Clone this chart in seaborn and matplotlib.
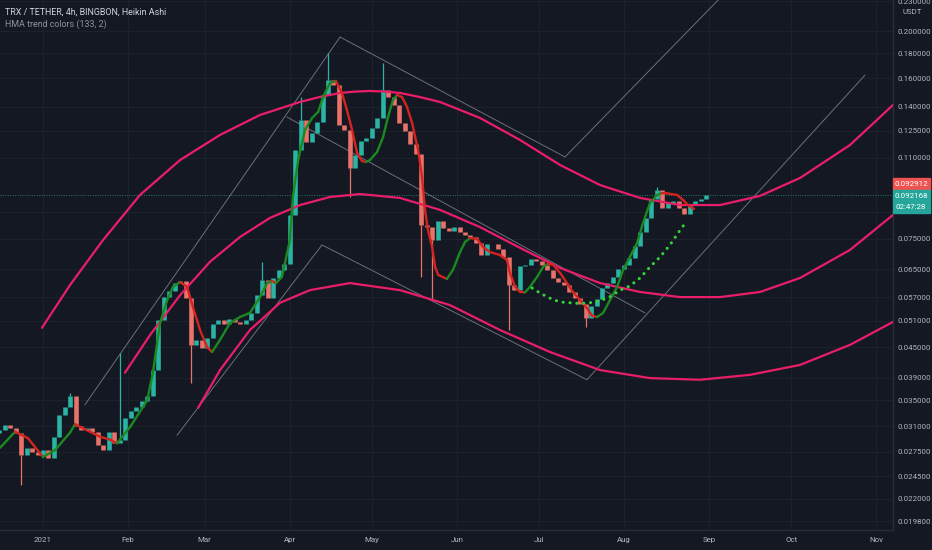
import pandas as pd
import matplotlib
matplotlib.use("Agg")
import matplotlib.pyplot as plt
from matplotlib.patches import Rectangle
from matplotlib.ticker import FixedLocator, NullLocator, FixedFormatter
import seaborn as sns

START = pd.Timestamp("2021-01-01")

# heikin ashi closes, one every 2 days from 2020-12-16
candle_start = "2020-12-16"
first_open = 0.0300
close = [0.0305, 0.0312, 0.0307, 0.0300, 0.0271, 0.0280, 0.0274, 0.0271, 0.0277, 0.0267,
         0.0295, 0.0327, 0.0339, 0.0358, 0.0310, 0.0305, 0.0307, 0.0301, 0.0284, 0.0277,
         0.0301, 0.0287, 0.0291, 0.0322, 0.0333, 0.0339, 0.0349, 0.0357, 0.0404, 0.0512,
         0.0570, 0.0586, 0.0609, 0.0615, 0.0567, 0.0455, 0.0466, 0.0449, 0.0469, 0.0501,
         0.0512, 0.0502, 0.0514, 0.0507, 0.0501, 0.0512, 0.0529, 0.0575, 0.0618, 0.0567,
         0.0624, 0.0648, 0.0667, 0.0840, 0.1141, 0.1314, 0.1185, 0.1236, 0.1302, 0.1479,
         0.1587, 0.1550, 0.1284, 0.1254, 0.1048, 0.1114, 0.1191, 0.1207, 0.1266, 0.1327,
         0.1515, 0.1465, 0.1411, 0.1296, 0.1248, 0.1174, 0.1120, 0.0801, 0.0795, 0.0746,
         0.0816, 0.0789, 0.0778, 0.0793, 0.0775, 0.0764, 0.0757, 0.0736, 0.0696, 0.0733,
         0.0731, 0.0716, 0.0689, 0.0604, 0.0589, 0.0660, 0.0664, 0.0682, 0.0677, 0.0664,
         0.0648, 0.0624, 0.0612, 0.0604, 0.0584, 0.0567, 0.0553, 0.0517, 0.0547, 0.0564,
         0.0595, 0.0609, 0.0627, 0.0651, 0.0664, 0.0685, 0.0725, 0.0775, 0.0828, 0.0905,
         0.0944, 0.0868, 0.0888, 0.0897, 0.0868, 0.0844, 0.0880, 0.0897, 0.0905, 0.0922]
# long wicks
spike_idx = [4, 13, 22, 35, 48, 55, 60, 64, 70, 77, 79, 93, 107, 120]
spike_px = [0.0235, 0.0363, 0.0438, 0.0380, 0.0673, 0.1465, 0.1800, 0.0914, 0.1720,
            0.0627, 0.0562, 0.0488, 0.0495, 0.0960]

# HMA (133, 2), days since 2021-01-01
hma_day = [-15.7, -10.2, -5.5, 0.0, 4.4, 9.9, 11.7, 14.6, 20.8, 24.5, 27.0, 31.8, 38.0,
           40.1, 42.7, 45.3, 47.4, 50.0, 52.6, 54.7, 57.3, 59.9, 61.7, 64.6, 68.2, 71.9,
           75.5, 79.2, 81.8, 83.6, 85.0, 87.2, 90.1, 91.2, 93.1, 95.6, 98.2, 100.4, 102.2,
           104.7, 106.9, 109.1, 110.9, 112.8, 114.6, 116.4, 117.9, 119.3, 121.9, 124.1,
           125.9, 127.7, 129.2, 131.0, 132.8, 134.7, 135.8, 136.9, 138.3, 139.4, 140.5,
           142.0, 143.1, 144.2, 147.4, 149.6, 152.2, 154.0, 155.8, 158.4, 160.6, 163.1,
           166.8, 169.3, 170.4, 172.3, 174.1, 175.9, 177.7, 180.3, 182.5, 184.3, 186.1,
           188.7, 191.2, 193.4, 196.0, 198.5, 200.4, 202.2, 204.4, 206.9, 209.5, 211.7,
           214.2, 216.8, 219.0, 221.5, 224.1, 225.9, 227.7, 231.4, 233.6, 235.4, 237.6]
hma_px = [0.0280, 0.0302, 0.0293, 0.0268, 0.0277, 0.0301, 0.0313, 0.0307, 0.0295, 0.0291,
          0.0286, 0.0309, 0.0350, 0.0399, 0.0504, 0.0562, 0.0598, 0.0612, 0.0598, 0.0544,
          0.0488, 0.0450, 0.0440, 0.0466, 0.0504, 0.0519, 0.0529, 0.0570, 0.0609, 0.0615,
          0.0609, 0.0627, 0.0746, 0.0914, 0.1088, 0.1254, 0.1327, 0.1365, 0.1465, 0.1565,
          0.1580, 0.1493, 0.1378, 0.1254, 0.1125, 0.1083, 0.1078, 0.1088, 0.1130, 0.1213,
          0.1333, 0.1444, 0.1479, 0.1465, 0.1400, 0.1296, 0.1213, 0.1141, 0.1004, 0.0860,
          0.0782, 0.0722, 0.0657, 0.0633, 0.0621, 0.0648, 0.0705, 0.0739, 0.0753, 0.0750,
          0.0722, 0.0705, 0.0695, 0.0679, 0.0639, 0.0598, 0.0584, 0.0583, 0.0598, 0.0627,
          0.0657, 0.0667, 0.0664, 0.0639, 0.0609, 0.0584, 0.0562, 0.0541, 0.0522, 0.0519,
          0.0529, 0.0562, 0.0598, 0.0648, 0.0689, 0.0736, 0.0809, 0.0888, 0.0923, 0.0931,
          0.0930, 0.0923, 0.0901, 0.0880, 0.0864]

# green dotted curve
dots_day = [178.5, 181.4, 185.0, 188.7, 192.3, 196.0, 199.6, 203.3, 206.9, 210.6, 214.2,
            217.9, 221.5, 225.2, 228.8, 232.5, 234.7]
dots_px = [0.0595, 0.0581, 0.0567, 0.0557, 0.0555, 0.0553, 0.0555, 0.0560, 0.0571, 0.0589,
           0.0601, 0.0624, 0.0657, 0.0689, 0.0729, 0.0782, 0.0812]

# curved bands
upper_day = [-0.4, 9.9, 21.9, 35.4, 50.0, 64.6, 79.2, 93.8, 101.0, 108.4, 114.0, 119.3,
             125.0, 130.3, 137.0, 144.9, 159.5, 174.1, 188.7, 203.3, 217.9, 232.5, 247.1,
             261.7, 276.3, 294.5, 310.2]
upper_px = [0.0493, 0.0604, 0.0746, 0.0923, 0.1088, 0.1225, 0.1346, 0.1431, 0.1465, 0.1493,
            0.1503, 0.1507, 0.1503, 0.1493, 0.1467, 0.1431, 0.1327, 0.1196, 0.1063, 0.0967,
            0.0910, 0.0880, 0.0880, 0.0919, 0.1000, 0.1168, 0.1411]
mid_day = [29.9, 39.1, 50.0, 60.9, 71.9, 82.8, 93.8, 104.7, 115.7, 130.3, 144.9, 159.5,
           174.1, 188.7, 203.3, 217.9, 232.5, 247.1, 261.7, 276.3, 294.5, 310.2]
mid_px = [0.0399, 0.0477, 0.0575, 0.0673, 0.0757, 0.0828, 0.0880, 0.0914, 0.0927, 0.0910,
          0.0860, 0.0793, 0.0719, 0.0654, 0.0609, 0.0584, 0.0570, 0.0570, 0.0584, 0.0624,
          0.0712, 0.0840]
low_day = [56.6, 64.6, 75.5, 86.5, 97.4, 112.0, 130.3, 148.5, 166.8, 185.0, 203.3, 221.5,
           239.8, 258.0, 276.3, 294.5, 310.2]
low_px = [0.0338, 0.0404, 0.0488, 0.0555, 0.0589, 0.0609, 0.0589, 0.0549, 0.0488, 0.0440,
          0.0404, 0.0389, 0.0386, 0.0395, 0.0414, 0.0455, 0.0507]

# drawn trend lines (start day, start price, end day, end price)
tl_d0 = [15.3, 108.4, 190.5, 48.9, 101.8, 198.5, 89.0]
tl_p0 = [0.0343, 0.1944, 0.1104, 0.0297, 0.0729, 0.0386, 0.1333]
tl_d1 = [108.4, 190.5, 246.4, 101.8, 198.5, 300.0, 219.7]
tl_p1 = [0.1944, 0.1104, 0.2315, 0.0729, 0.0386, 0.1625, 0.0529]

price_ticks = [0.23, 0.2, 0.18, 0.16, 0.14, 0.125, 0.11, 0.085, 0.075, 0.065, 0.057,
               0.051, 0.045, 0.039, 0.035, 0.031, 0.0275, 0.0245, 0.022, 0.0198]
hidden_ticks = [0.085]  # sits under the price labels
month_ticks = ["2021-01-01", "2021-02-01", "2021-03-01", "2021-04-01", "2021-05-01",
               "2021-06-01", "2021-07-01", "2021-08-01", "2021-09-01", "2021-10-01",
               "2021-11-01"]
month_labels = ["2021", "Feb", "Mar", "Apr", "May", "Jun", "Jul", "Aug", "Sep", "Oct", "Nov"]
last_price = 0.092168
red_label = "0.092912"
countdown = "02:47:28"

BG = "#141823"
GRID = "#1c212c"
TXT = "#b2b5be"

sns.set_theme(style="dark", rc={"axes.facecolor": BG, "figure.facecolor": BG})
plt.rcParams["font.family"] = ["Roboto", "DejaVu Sans"]


def days(d):
    return START + pd.to_timedelta(pd.Series(d, dtype=float), unit="D")


fig = plt.figure(figsize=(9.32, 5.5), dpi=100)
ax = fig.add_axes([0, 20 / 550, 893 / 932, 530 / 550])
ax.set_yscale("log")

# candles
dates = pd.date_range(candle_start, periods=len(close), freq="2D")
opens = [first_open] + close[:-1]
up_c, dn_c = "#2bb3a3", "#e8736a"
cols = [up_c if c >= o else dn_c for o, c in zip(opens, close)]
lo = [min(o, c) for o, c in zip(opens, close)]
hi = [max(o, c) for o, c in zip(opens, close)]
for i, p in zip(spike_idx, spike_px):
    base = hi[i] if p > hi[i] else lo[i]
    ax.vlines(dates[i], min(base, p), max(base, p), color=cols[i], lw=0.9, zorder=3)
ax.vlines(dates, lo, hi, colors=cols, lw=3.3, zorder=3)

# bands
for d, p in [(upper_day, upper_px), (mid_day, mid_px), (low_day, low_px)]:
    sns.lineplot(x=days(d), y=p, ax=ax, color="#ea1e68", lw=1.6, zorder=4)

# trend lines
for d0, p0, d1, p1 in zip(tl_d0, tl_p0, tl_d1, tl_p1):
    ax.plot(days([d0, d1]), [p0, p1], color="#6b6f7a", lw=0.7, zorder=2)

# HMA coloured by direction
hx = days(hma_day)
for i in range(1, len(hma_px)):
    c = "#1a8a1f" if hma_px[i] >= hma_px[i - 1] else "#d42420"
    ax.plot(hx.iloc[i - 1:i + 1], hma_px[i - 1:i + 1], color=c, lw=1.7,
            solid_capstyle="round", zorder=5)

# dotted projection
ax.plot(days(dots_day), dots_px, color="#33d43a", lw=2.2, linestyle=(0, (0.05, 2.2)),
        dash_capstyle="round", zorder=5)

ax.axhline(last_price, color="#26a69a", lw=0.7, ls=(0, (1, 1.5)), alpha=0.7, zorder=2)

ax.set_xlim(START + pd.Timedelta(days=-15.7), START + pd.Timedelta(days=310.2))
ax.set_ylim(0.0190, 0.2315)

ax.yaxis.tick_right()
ax.yaxis.set_major_locator(FixedLocator(price_ticks))
ax.yaxis.set_major_formatter(FixedFormatter(
    ["" if v in hidden_ticks else "%.6f" % v for v in price_ticks]))
ax.yaxis.set_minor_locator(NullLocator())
ax.set_xticks(pd.to_datetime(month_ticks))
ax.set_xticklabels(month_labels)
ax.tick_params(axis="both", length=0, colors=TXT, labelsize=5.7)
ax.tick_params(axis="y", pad=3)
ax.tick_params(axis="x", pad=5)
ax.grid(True, color=GRID, lw=0.8)
ax.set_xlabel("")
ax.set_ylabel("")
for s in ["top", "left"]:
    ax.spines[s].set_visible(False)
for s in ["right", "bottom"]:
    ax.spines[s].set_color("#2a2e39")
    ax.spines[s].set_linewidth(1)

fig.text(5 / 932, 1 - 12 / 550, "TRX / TETHER, 4h, BINGBON, Heikin Ashi", color="#d1d4dc",
         fontsize=6.4, va="center", ha="left")
fig.text(5 / 932, 1 - 24 / 550, "HMA trend colors (133, 2)", color="#8f929b",
         fontsize=6.4, va="center", ha="left")
fig.text(912 / 932, 1 - 12 / 550, "USDT", color=TXT, fontsize=5.6, va="center", ha="center")

# price labels on the scale
fig.patches.append(Rectangle((893 / 932, 1 - 190 / 550), 37 / 932, 12 / 550,
                             transform=fig.transFigure, color="#ef5350", zorder=5))
fig.patches.append(Rectangle((893 / 932, 1 - 213 / 550), 37 / 932, 23 / 550,
                             transform=fig.transFigure, color="#26a69a", zorder=5))
fig.text(911 / 932, 1 - 184 / 550, red_label, color="white", fontsize=5.7,
         va="center", ha="center", zorder=6)
fig.text(911 / 932, 1 - 196 / 550, "%.6f" % last_price, color="white", fontsize=5.7,
         va="center", ha="center", zorder=6)
fig.text(911 / 932, 1 - 207 / 550, countdown, color="white", fontsize=5.7,
         va="center", ha="center", zorder=6)

fig.savefig("out.png", dpi=100, facecolor=BG)
